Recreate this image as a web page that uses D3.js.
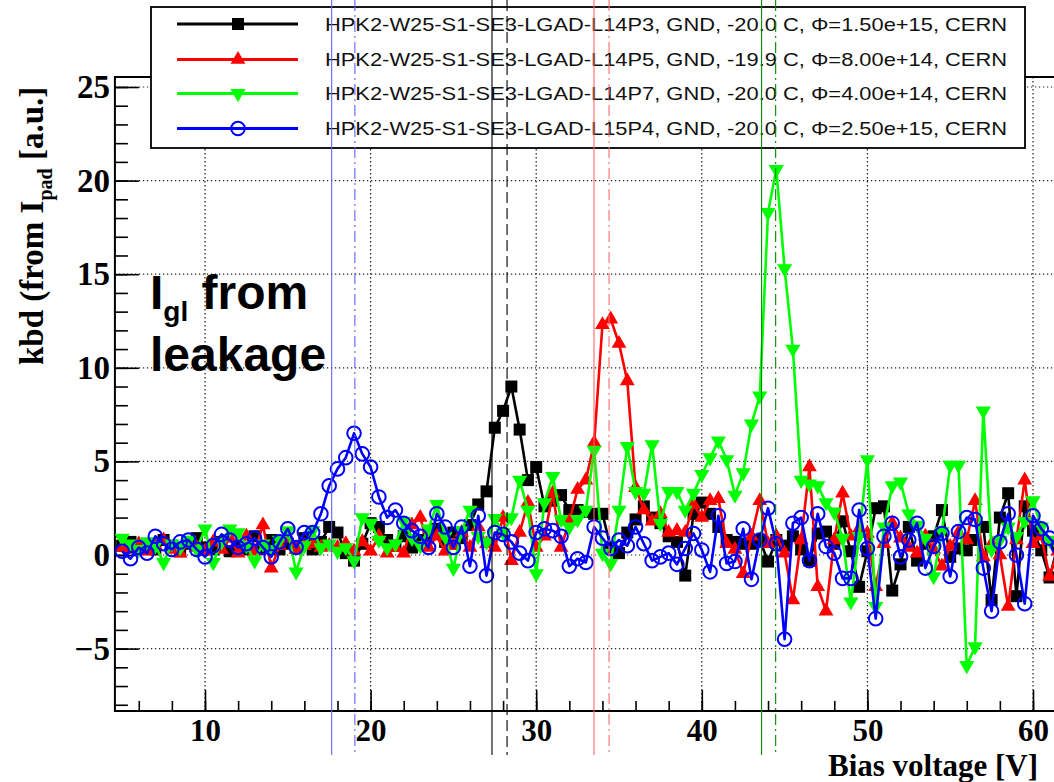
<!DOCTYPE html>
<html>
<head>
<meta charset="utf-8">
<script src="https://cdn.jsdelivr.net/npm/d3@7"></script>
<style>
  html, body { margin: 0; padding: 0; background: #fff; }
  svg { display: block; }
</style>
</head>
<body>
<svg id="chart" width="1054" height="782"></svg>
<script>
// Bias voltage of every measured point [V]
const bias = [
   5.0,  5.5,  6.0,  6.5,  7.0,  7.5,  8.0,  8.5,  9.0,  9.5,
  10.0, 10.5, 11.0, 11.5, 12.0, 12.5, 13.0, 13.5, 14.0, 14.5,
  15.0, 15.5, 16.0, 16.5, 17.0, 17.5, 18.0, 18.5, 19.0, 19.5,
  20.0, 20.5, 21.0, 21.5, 22.0, 22.5, 23.0, 23.5, 24.0, 24.5,
  25.0, 25.5, 26.0, 26.5, 27.0, 27.5, 28.0, 28.5, 29.0, 29.5,
  30.0, 30.5, 31.0, 31.5, 32.0, 32.5, 33.0, 33.5, 34.0, 34.5,
  35.0, 35.5, 36.0, 36.5, 37.0, 37.5, 38.0, 38.5, 39.0, 39.5,
  40.0, 40.5, 41.0, 41.5, 42.0, 42.5, 43.0, 43.5, 44.0, 44.5,
  45.0, 45.5, 46.0, 46.5, 47.0, 47.5, 48.0, 48.5, 49.0, 49.5,
  50.0, 50.5, 51.0, 51.5, 52.0, 52.5, 53.0, 53.5, 54.0, 54.5,
  55.0, 55.5, 56.0, 56.5, 57.0, 57.5, 58.0, 58.5, 59.0, 59.5,
  60.0, 60.5, 61.0, 61.5
];

// kbd derived from the pad current, one array per sensor
const kbdL14P3 = [
  0.5, 0.7, 0.4, 0.6, 0.3, 0.8, 0.5, 0.2, 0.6, 0.9,
  0.4, 0.3, 0.7, 0.2, 0.5, 0.3, 1.0, 0.4, 0.8, 0.3,
  0.6, 0.4, 0.9, 0.3, 0.7, 1.5, 1.2, 0.1, -0.3, 0.6,
  1.7, 1.5, 0.8, 0.5, 1.0, 0.4, 0.8, 1.1, 1.4, 0.7,
  1.2, 0.9, 1.6, 2.7, 3.4, 6.8, 7.7, 9.0, 6.7, 4.0,
  4.7, 2.6, 2.9, 3.2, 2.4, 2.4, 2.3, 2.2, 2.2, 0.4,
  0.1, 1.2, 1.9, 2.6, 2.0, 1.7, 1.0, 0.7, -1.1, 2.2,
  2.8, 2.2, 1.5, 0.8, 0.7, 0.6, 0.6, 0.8, -0.35, 0.8,
  0.5, 1.0, 0.3, -0.3, 1.15, 1.25, 0.6, 1.8, 0.2, -1.7,
  0.2, 2.5, 2.6, -1.9, -0.5, 1.5, -0.3, 0.6, 1.0, 2.4,
  -0.1, 0.35, 0.25, 0.8, 1.5, -2.4, 2.0, 3.3, -2.2, 2.6,
  1.3, 0.25, -1.2, 0.5
];
const kbdL14P5 = [
  0.4, 0.3, 0.6, 0.2, 0.5, 0.8, 0.3, 0.1, 0.6, 0.4,
  0.2, 0.7, 0.3, 0.9, 0.1, 1.0, 0.2, 1.6, -0.7, 0.5,
  0.9, 0.3, 0.5, 0.6, 0.4, 0.5, 0.4, 0.6, 0.2, 0.7,
  0.2, 1.0, 0.1, 0.4, 0.1, 1.6, 2.0, 0.4, 1.0, 0.2,
  0.5, 1.2, 0.4, 1.5, 0.6, 0.4, 2.0, -0.3, 1.2, 2.8,
  0.4, 1.0, 3.3, 0.4, 1.8, 3.5, 4.0, 6.0, 12.3, 12.6,
  11.3, 9.3, 3.6, 2.4, 1.8, 2.2, 1.2, 1.3, 1.2, 2.7,
  2.0, 2.9, 3.0, 0.6, 0.3, -1.0, 1.0, 2.9, 0.6, 1.0,
  0.1, -2.4, 0.8, 4.7, -1.7, -3.0, 0.8, 3.3, 1.0, 1.4,
  1.15, -1.7, 0.6, 1.7, 0.9, 0.4, 0.1, 1.0, 0.3, -0.6,
  0.45, 1.2, 0.8, 2.9, -0.1, 0.6, 0.0, -2.75, 0.8, 4.0,
  0.6, 1.0, -1.15, 0.2
];
const kbdL14P7 = [
  0.9, 0.6, 0.3, 0.7, 0.5, -0.4, 0.6, 0.4, 0.8, 0.3,
  1.4, -0.4, 0.7, 1.4, 1.2, 0.5, -0.3, 0.6, 0.3, 0.8,
  1.3, -0.9, 0.5, 1.3, 0.4, 0.6, 0.2, 0.4, -0.3, 2.0,
  1.7, 0.8, 0.4, 0.6, 1.8, 0.9, 0.5, 1.4, 2.7, 1.0,
  -0.7, 1.3, 2.4, 1.0, 0.7, 1.95, 1.2, 2.0, 4.0, 2.4,
  -1.0, 2.8, 4.2, 1.9, 1.5, 1.9, 2.4, 5.6, 0.1, -0.45,
  2.4, 5.8, 3.4, 3.3, 5.9, 1.7, 3.4, 3.4, 2.4, 3.3,
  4.3, 5.2, 6.1, 5.1, 3.2, 4.4, 7.0, 8.5, 18.3, 20.6,
  15.3, 11.0, 4.0, 3.8, 3.7, 2.8, 2.3, 0.9, -2.5, 1.0,
  5.1, -2.75, 1.5, 3.7, 3.9, 2.2, 1.6, 0.9, -1.15, 1.25,
  4.8, 4.8, -5.9, -4.9, 7.7, 0.3, 0.8, 1.5, 1.0, 1.8,
  2.9, 1.5, 0.8, 0.5
];
const kbdL15P4 = [
  0.2, -0.2, 0.4, 0.1, 1.0, 0.6, 0.3, 0.7, 0.8, 0.3,
  -0.1, 0.5, 1.1, 0.8, 0.4, 0.6, 0.9, 0.4, -0.1, 0.7,
  1.4, 0.4, 1.2, 1.2, 2.2, 3.7, 4.6, 5.2, 6.5, 5.4,
  4.7, 3.1, 2.0, 2.4, 1.7, 1.3, 1.0, 0.4, 2.2, 1.5,
  0.4, 1.5, -0.6, 2.1, -1.1, 1.2, 1.1, 0.7, 0.1, -0.3,
  1.2, 1.4, 1.3, 1.0, -0.6, -0.2, -0.4, 1.5, 0.9, 0.35,
  0.8, 0.5, 1.5, 0.6, -0.3, -0.1, 0.1, -0.5, 0.35, 1.15,
  0.27, -0.9, 2.1, -0.45, -0.35, 1.4, -1.3, 0.8, 2.5, 0.6,
  -4.5, 1.7, 2.0, -0.3, 2.2, 0.45, 0.1, -1.25, -1.25, 2.4,
  0.35, -3.4, 1.0, 1.7, -0.1, 0.8, 1.7, -0.7, 0.45, 1.15,
  -1.15, 1.25, 2.0, 1.9, -0.7, -3.0, 0.7, 2.2, 0.0, -2.6,
  2.1, 1.4, 0.9, 0.45
];

const legendLabels = [
  "HPK2-W25-S1-SE3-LGAD-L14P3, GND, -20.0 C, \u03A6=1.50e+15, CERN",
  "HPK2-W25-S1-SE3-LGAD-L14P5, GND, -19.9 C, \u03A6=8.00e+14, CERN",
  "HPK2-W25-S1-SE3-LGAD-L14P7, GND, -20.0 C, \u03A6=4.00e+14, CERN",
  "HPK2-W25-S1-SE3-LGAD-L15P4, GND, -20.0 C, \u03A6=2.50e+15, CERN"
];

// Breakdown estimates per sensor [V]: from I_gl (solid) and from the kbd peak (dashed)
const breakdownGl   = [27.33, 33.49, 43.61, 17.65];
const breakdownPeak = [28.24, 34.40, 44.46, 19.05];

const xTickValues = [10, 20, 30, 40, 50, 60];
const yTickValues = [-5, 0, 5, 10, 15, 20, 25];

const series = [
  { values: kbdL14P3, color: "#000000", marker: "square",  vline: "#000000", dash: "11,5" },
  { values: kbdL14P5, color: "#ff0000", marker: "triUp",   vline: "#ff6a6a", dash: "11,4,2,4" },
  { values: kbdL14P7, color: "#00ff00", marker: "triDown", vline: "#008a00", dash: "11,4,2,4" },
  { values: kbdL15P4, color: "#0000ff", marker: "circle",  vline: "#6060ff", dash: "11,4,2,4" }
];

const svg = d3.select("#chart");
const serif = "'Liberation Serif', 'Times New Roman', serif";
const sans = "'Liberation Sans', Arial, sans-serif";

// Scales: pixel anchors from the axis ticks
const x = d3.scaleLinear().domain([10, 60]).range([205, 1033]);
const y = d3.scaleLinear().domain([0, 25]).range([555, 87]);
const xMin = 4.56, xMax = 62.0, yMin = -8.33, yMax = 25.53;
const fx0 = x(xMin), fx1 = x(xMax), fy0 = y(yMax), fy1 = y(yMin);

// Grid (dotted)
const grid = svg.append("g").attr("stroke", "#222").attr("stroke-width", 1.2)
  .attr("stroke-dasharray", "1.3,2.7");
grid.selectAll("line.gx").data(xTickValues).join("line")
  .attr("x1", d => x(d)).attr("x2", d => x(d)).attr("y1", fy0).attr("y2", fy1);
grid.selectAll("line.gy").data(yTickValues).join("line")
  .attr("x1", fx0).attr("x2", fx1).attr("y1", d => y(d)).attr("y2", d => y(d));

// Axes with inward ticks
const yMinor = d3.range(Math.ceil(yMin), Math.floor(yMax) + 1);
const xMinor = d3.range(6, 62, 2);

const yAxisMinor = svg.append("g").attr("transform", `translate(${fx0},0)`)
  .call(d3.axisLeft(y).tickValues(yMinor).tickSizeInner(-13).tickSizeOuter(0).tickFormat(""));
const yAxis = svg.append("g").attr("transform", `translate(${fx0},0)`)
  .call(d3.axisLeft(y).tickValues(yTickValues).tickSizeInner(-24).tickSizeOuter(0).tickPadding(5));
const xAxisMinor = svg.append("g").attr("transform", `translate(0,${fy1})`)
  .call(d3.axisBottom(x).tickValues(xMinor).tickSizeInner(-10).tickSizeOuter(0).tickFormat(""));
const xAxis = svg.append("g").attr("transform", `translate(0,${fy1})`)
  .call(d3.axisBottom(x).tickValues(xTickValues).tickSizeInner(-21).tickSizeOuter(0).tickPadding(8));

[yAxisMinor, yAxis, xAxisMinor, xAxis].forEach(g => {
  g.select(".domain").remove();
  g.selectAll(".tick line").attr("stroke", "#000").attr("stroke-width", 1.6);
});
yAxis.selectAll(".tick text")
  .attr("fill", "#000").style("font-family", serif).style("font-weight", "bold").style("font-size", "33px");
xAxis.selectAll(".tick text")
  .attr("fill", "#000").style("font-family", serif).style("font-weight", "bold").style("font-size", "31px");

// Frame
svg.append("path")
  .attr("d", `M${fx1},${fy0}H${fx0}V${fy1}H${fx1}`)
  .attr("fill", "none").attr("stroke", "#000").attr("stroke-width", 2);

// Axis titles
svg.append("text")
  .attr("x", 828).attr("y", 776)
  .style("font-family", serif).style("font-weight", "bold").style("font-size", "31px")
  .text("Bias voltage [V]");

const yTitle = svg.append("text")
  .attr("transform", "translate(43,365) rotate(-90)")
  .style("font-family", serif).style("font-weight", "bold").style("font-size", "33px");
yTitle.append("tspan").text("kbd (from I");
yTitle.append("tspan").attr("dy", 9).style("font-size", "20px").text("pad");
yTitle.append("tspan").attr("dy", -9).text(" [a.u.]");

// Marker shapes
function markerPath(kind) {
  if (kind === "square") return d3.symbol(d3.symbolSquare, 144)();
  if (kind === "triUp") return d3.symbol(d3.symbolTriangle, 95)();
  if (kind === "triDown") return d3.symbol(d3.symbolTriangle, 100)();
  return d3.symbol(d3.symbolCircle, 145)();
}
function drawMarker(sel, s) {
  sel.attr("d", markerPath(s.marker))
    .attr("fill", s.marker === "circle" ? "none" : s.color)
    .attr("stroke", s.marker === "circle" ? s.color : "none")
    .attr("stroke-width", s.marker === "circle" ? 2 : 0);
}

// Data
svg.append("clipPath").attr("id", "frameClip").append("rect")
  .attr("x", fx0).attr("y", fy0).attr("width", fx1 - fx0).attr("height", fy1 - fy0);
const plot = svg.append("g").attr("clip-path", "url(#frameClip)");
const line = d3.line().x((d, i) => x(bias[i])).y(d => y(d));

series.forEach(s => {
  const g = plot.append("g");
  g.append("path").attr("d", line(s.values))
    .attr("fill", "none").attr("stroke", s.color).attr("stroke-width", 2.6)
    .attr("stroke-linejoin", "round");
  g.selectAll("path.m").data(s.values).join("path").attr("class", "m")
    .attr("transform", (d, i) => `translate(${x(bias[i])},${y(d)})` + (s.marker === "triDown" ? " rotate(180)" : ""))
    .call(drawMarker, s);
});

// "I_gl from leakage" annotation
const ann1 = svg.append("text").attr("x", 150).attr("y", 309)
  .style("font-family", sans).style("font-weight", "bold").style("font-size", "48px");
ann1.append("tspan").text("I");
ann1.append("tspan").attr("dy", 12).style("font-size", "28px").text("gl");
ann1.append("tspan").attr("dy", -12).text(" from");
svg.append("text").attr("x", 150).attr("y", 371)
  .style("font-family", sans).style("font-weight", "bold").style("font-size", "48px")
  .text("leakage");

// Legend
const leg = svg.append("g");
leg.append("rect").attr("x", 151).attr("y", 7).attr("width", 874).attr("height", 141)
  .attr("fill", "#fff").attr("stroke", "#000").attr("stroke-width", 1.8);
const rowY = [24, 59.5, 93.5, 128.5];
series.forEach((s, i) => {
  leg.append("line").attr("x1", 177).attr("x2", 298).attr("y1", rowY[i]).attr("y2", rowY[i])
    .attr("stroke", s.color).attr("stroke-width", 3.2);
  leg.append("path")
    .attr("transform", `translate(238,${rowY[i]})` + (s.marker === "triDown" ? " rotate(180)" : ""))
    .call(drawMarker, s);
  leg.append("text").attr("x", 325).attr("y", rowY[i] + 6.5)
    .attr("textLength", 682).attr("lengthAdjust", "spacingAndGlyphs")
    .style("font-family", sans).style("font-size", "18.5px").attr("fill", "#111")
    .text(legendLabels[i]);
});

// Breakdown voltage markers across the whole canvas
const vlines = svg.append("g");
series.forEach((s, i) => {
  vlines.append("line").attr("x1", x(breakdownGl[i])).attr("x2", x(breakdownGl[i]))
    .attr("y1", 0).attr("y2", 755).attr("stroke", s.vline).attr("stroke-width", 1.1);
  vlines.append("line").attr("x1", x(breakdownPeak[i])).attr("x2", x(breakdownPeak[i]))
    .attr("y1", 0).attr("y2", 755).attr("stroke", s.vline).attr("stroke-width", 1.1)
    .attr("stroke-dasharray", s.dash);
});
</script>
</body>
</html>
